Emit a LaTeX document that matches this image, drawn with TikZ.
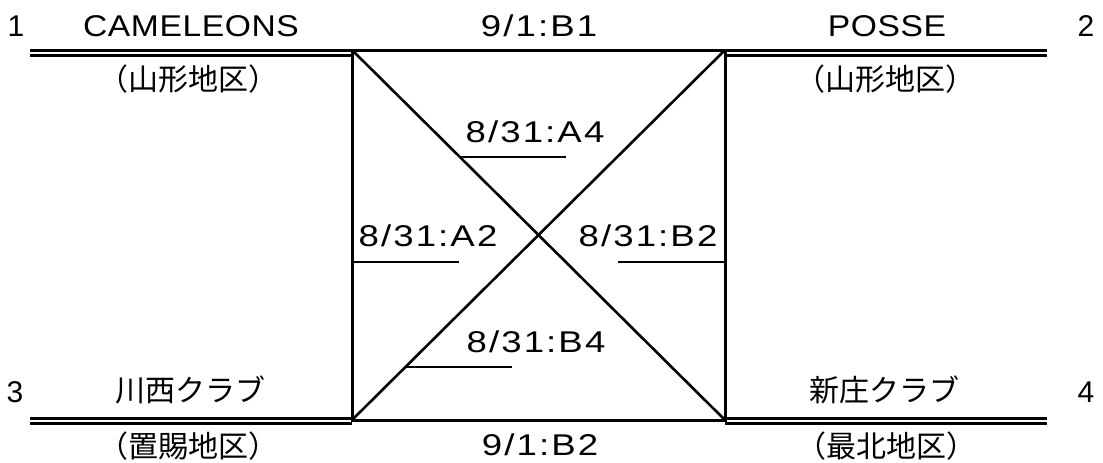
\documentclass[tikz,border=0pt]{standalone}
\usepackage{fontspec}
\setmainfont{Liberation Sans}
\newfontfamily\jpfont{Noto Sans CJK JP}
\newfontfamily\teamfont[FakeStretch=1.12,LetterSpace=2]{Liberation Sans}
\newfontfamily\gamefont[FakeStretch=1.22,LetterSpace=7]{Liberation Sans}
\usetikzlibrary{positioning}

\begin{document}
\begin{tikzpicture}[x=0.5pt,y=-0.5pt,
    team/.style={inner sep=0pt,font=\fontsize{15}{18}\teamfont},
    area/.style={inner sep=0pt,font=\fontsize{15}{18}\jpfont},
    seed/.style={inner sep=0pt,font=\fontsize{15}{18}\selectfont},
    game/.style={inner sep=0pt,font=\fontsize{15}{18}\gamefont},
    teamline/.style={double,double distance=1pt,line width=1.5pt},
    bracket/.style={line width=1.5pt,line cap=rect},
    cross/.style={line width=1.3pt}]
  \useasboundingbox (0,0) rectangle (1103,462);
  % corners of the league square
  \coordinate (c1) at (352,50);
  \coordinate (c2) at (725,50);
  \coordinate (c3) at (352,420);
  \coordinate (c4) at (725,420);
  % team lines
  \coordinate (l1) at (30,52.5);
  \coordinate (l2) at (1047,52.5);
  \coordinate (l3) at (30,420.5);
  \coordinate (l4) at (1047,420.5);
  \draw[teamline] (l1) -- (l1 -| c1);
  \draw[teamline] (l2) -- (l2 -| c2);
  \draw[teamline] (l3) -- (l3 -| c3);
  \draw[teamline] (l4) -- (l4 -| c4);
  % teams
  \node[seed] (n1) at (16,26) {1};
  \node[seed] (n2) at (1086,26) {2};
  \node[seed] (n3) at (15,392) {3};
  \node[seed] (n4) at (1086,392) {4};
  \node[team] (t1) at (191,26) {CAMELEONS};
  \node[team] (t2) at (887,26) {POSSE};
  \node[area] (t3) at (190,390) {川西クラブ};
  \node[area] (t4) at (884,390) {新庄クラブ};
  \node[area] (a1) at (188,79) {（山形地区）};
  \node[area] (a2) at (885,79) {（山形地区）};
  \node[area] (a3) at (188,446) {（置賜地区）};
  \node[area] (a4) at (886,446) {（最北地区）};
  % games
  \draw[bracket] (c1) -- (c2) -- (c4) -- (c3) -- cycle;
  \draw[cross] (c1) -- (c4);
  \draw[cross] (c2) -- (c3);
  \node[game] (g12) at (539,25.5) {9/1:B1};
  \node[game] (g34) at (540,445) {9/1:B2};
  \foreach \name/\txt/\tx/\ty/\ux/\uy in {g14/{8/31:A4}/535/132/459/157,
      g13/{8/31:A2}/428/236/352/262,g24/{8/31:B2}/648/236/618/262,
      g23/{8/31:B4}/536/342/405/367}{
    \node[game] (\name) at (\tx,\ty) {\txt};
    \draw[cross] (\ux,\uy) -- ++(107,0);
  }
\end{tikzpicture}
\end{document}
